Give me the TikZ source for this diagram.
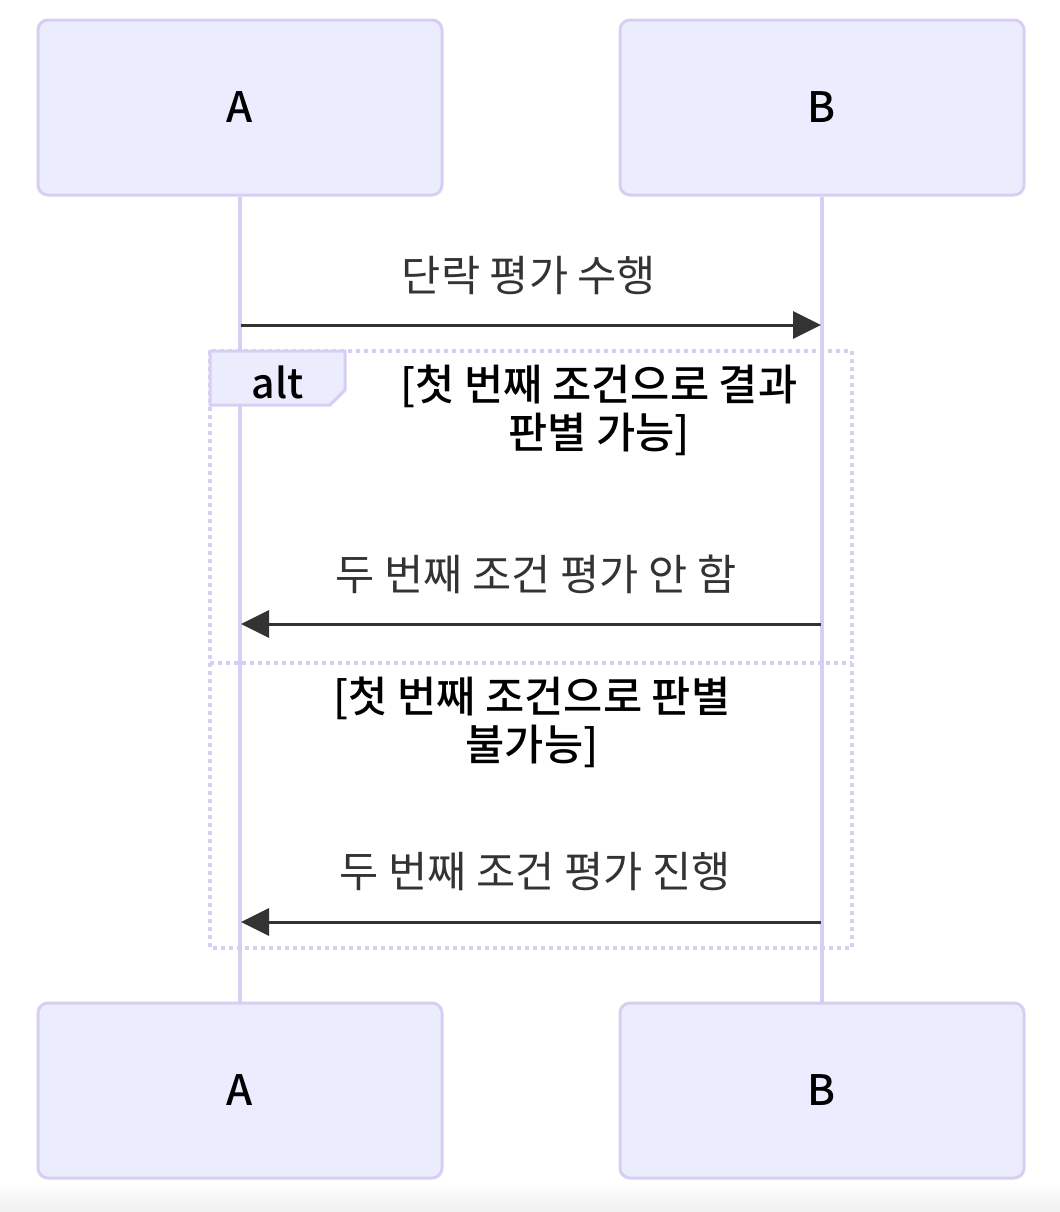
\documentclass[tikz,border=0pt]{standalone}
\usepackage{fontspec}
\setmainfont{Noto Sans CJK KR}
\IfFontExistsTF{Noto Sans CJK KR Medium}
 {\newfontfamily\medfont{Noto Sans CJK KR Medium}}
 {\newfontfamily\medfont{Noto Sans CJK KR}[FakeBold=1]}
\usetikzlibrary{arrows.meta}
\definecolor{actfill}{HTML}{ECECFF}
\definecolor{actline}{HTML}{D7CFF2}
\definecolor{msgcol}{HTML}{333333}
\tikzset{
actor/.style={draw=actline,line width=1.5pt,fill=actfill,rounded corners=5pt,minimum width=202pt,minimum height=87.5pt,inner sep=0pt,font=\fontsize{21}{25}\selectfont\medfont},
msgtxt/.style={text=msgcol,font=\fontsize{21.3}{25}\selectfont},
cond/.style={align=center,font=\fontsize{21.3}{24}\selectfont\medfont},
msgarrow/.style={draw=msgcol,line width=1.5pt,-{Triangle[length=14pt,width=13.5pt]}},
lifeline/.style={draw=actline,line width=1.6pt},
altframe/.style={draw=actline,line width=2pt,dash pattern=on 2pt off 2pt},
}
\begin{document}
\begin{tikzpicture}[x=0.5pt,y=-0.5pt]
\useasboundingbox (0,0) rectangle (1060,1212);
\shade[top color=white,bottom color=black!6] (0,1182) rectangle (1060,1212);
%\draw[teal,step=100] (0,0) grid (1060,1212);
\node[actor] (atop) at (240,107.5) {A}; \node[actor] (btop) at (822,107.5) {B};
\node[actor] (abot) at (240,1090.5) {A}; \node[actor] (bbot) at (822,1090.5) {B};
\draw[lifeline] (atop) -- (abot); \draw[lifeline] (btop) -- (bbot);
% alt frame
\draw[altframe] (210,351) rectangle (852,948);
\draw[altframe] (210,663) -- (852,663);
\draw[draw=actline,fill=actfill,line width=1.5pt] (210,351)--(345,351)--(345,390)--(330,405)--(210,405)--cycle;
\node (alt) at (278,382) {\fontsize{20.5}{24}\selectfont\medfont alt};
\node[cond] (c1) at (599,410) {[첫 번째 조건으로 결과\\판별 가능]};
\node[cond] (c2) at (532,722) {[첫 번째 조건으로 판별\\불가능]};
% messages
\coordinate (a1) at (241,325); \coordinate (b1) at (821,325);
\coordinate (a2) at (241,624); \coordinate (b2) at (821,624);
\coordinate (a3) at (241,922); \coordinate (b3) at (821,922);
\node[msgtxt] (m1) at (529,276) {단락 평가 수행};
\node[msgtxt] (m2) at (536,574) {두 번째 조건 평가 안 함};
\node[msgtxt] (m3) at (535,872) {두 번째 조건 평가 진행};
\draw[msgarrow] (a1) -- (b1);
\draw[msgarrow] (b2) -- (a2);
\draw[msgarrow] (b3) -- (a3);
\end{tikzpicture}
\end{document}
